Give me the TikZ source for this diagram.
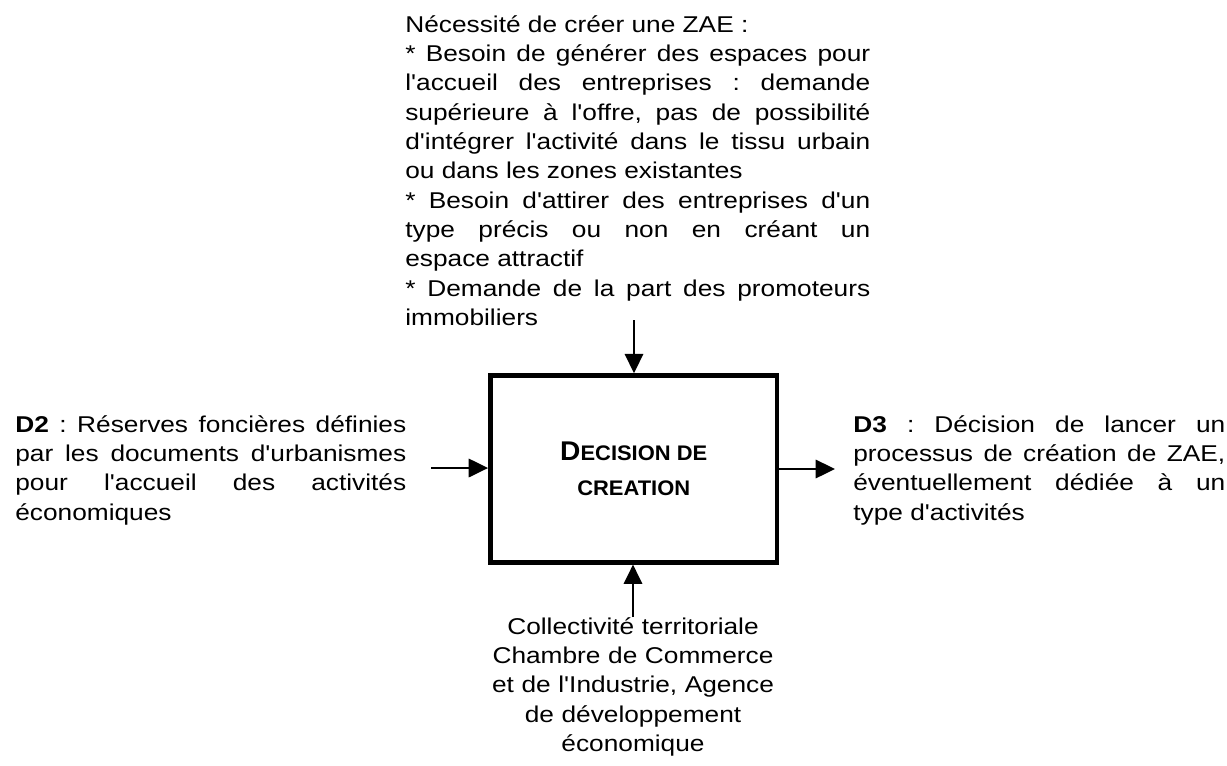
\documentclass[tikz,border=0pt]{standalone}
\usepackage{fontspec}
\setmainfont{Liberation Sans}[FakeStretch=1.15, Ligatures=TeXOff]
\newfontfamily\boxfont{Liberation Sans}[FakeStretch=1.04, Ligatures=TeXOff]
\usetikzlibrary{positioning}
\usetikzlibrary{arrows.meta}
\hyphenpenalty=10000
\exhyphenpenalty=10000
\frenchspacing
\newcommand\petitcap[1]{{\fontsize{12pt}{19.8pt}\selectfont #1}}

\tikzset{
  flow/.style={-{Triangle[length=11pt, width=10.5pt]}, line width=1.1pt},
  note/.style={inner sep=0pt, anchor=base west, align=justify, font=\fontsize{13pt}{16.7pt}\selectfont},
  activity/.style={draw, line width=2.8pt, minimum width=5.73cm, minimum height=3.73cm,
    inner sep=0pt, align=center, font=\boxfont\bfseries\fontsize{15.4pt}{19.8pt}\selectfont},
}

\begin{document}
\begin{tikzpicture}[x=0.02cm, y=-0.02cm]
    \useasboundingbox (0,0) rectangle (1227,765);

    % Activity
    \node[activity] (act) at (633.75,468.9) {D\petitcap{ECISION DE}\\\petitcap{CREATION}};

    % Control (top)
    \node[note, text width=9.3cm] (need) at (405,32) {Nécessité de créer une ZAE :\par
      * Besoin de générer des espaces pour\linebreak l'accueil des entreprises : demande\linebreak
      supérieure à l'offre, pas de possibilité\linebreak d'intégrer l'activité dans le tissu urbain\linebreak
      ou dans les zones existantes\par
      * Besoin d'attirer des entreprises d'un\linebreak type précis ou non en créant un\linebreak
      espace attractif\par
      * Demande de la part des promoteurs\linebreak immobiliers};

    % Input and output
    \node[note, text width=7.82cm] (d2) at (15,432) {\textbf{D2} : Réserves foncières définies\linebreak
      par les documents d'urbanismes\linebreak pour l'accueil des activités\linebreak économiques};
    \node[note, text width=7.44cm] (d3) at (853,432) {\textbf{D3} : Décision de lancer un\linebreak
      processus de création de ZAE,\linebreak éventuellement dédiée à un\linebreak type d'activités};

    % Mechanism (bottom)
    \node[inner sep=0pt, anchor=base, text width=7cm, align=center, font=\fontsize{13pt}{16.7pt}\selectfont] (actors)
      at (633,634) {Collectivité territoriale\\Chambre de Commerce\\et de l'Industrie, Agence\\de développement\\économique};

    % Arrows
    \coordinate (need-end) at (634,320);
    \coordinate (d2-end) at (431,468);
    \coordinate (d3-end) at (835,469);
    \coordinate (actors-end) at (633,617);
    \draw[flow] (need-end) -- (need-end |- act.north);
    \draw[flow] (d2-end) -- (d2-end -| act.west);
    \draw[flow] (act.east |- d3-end) -- (d3-end);
    \draw[flow] (actors-end) -- (actors-end |- act.south);
\end{tikzpicture}
\end{document}
